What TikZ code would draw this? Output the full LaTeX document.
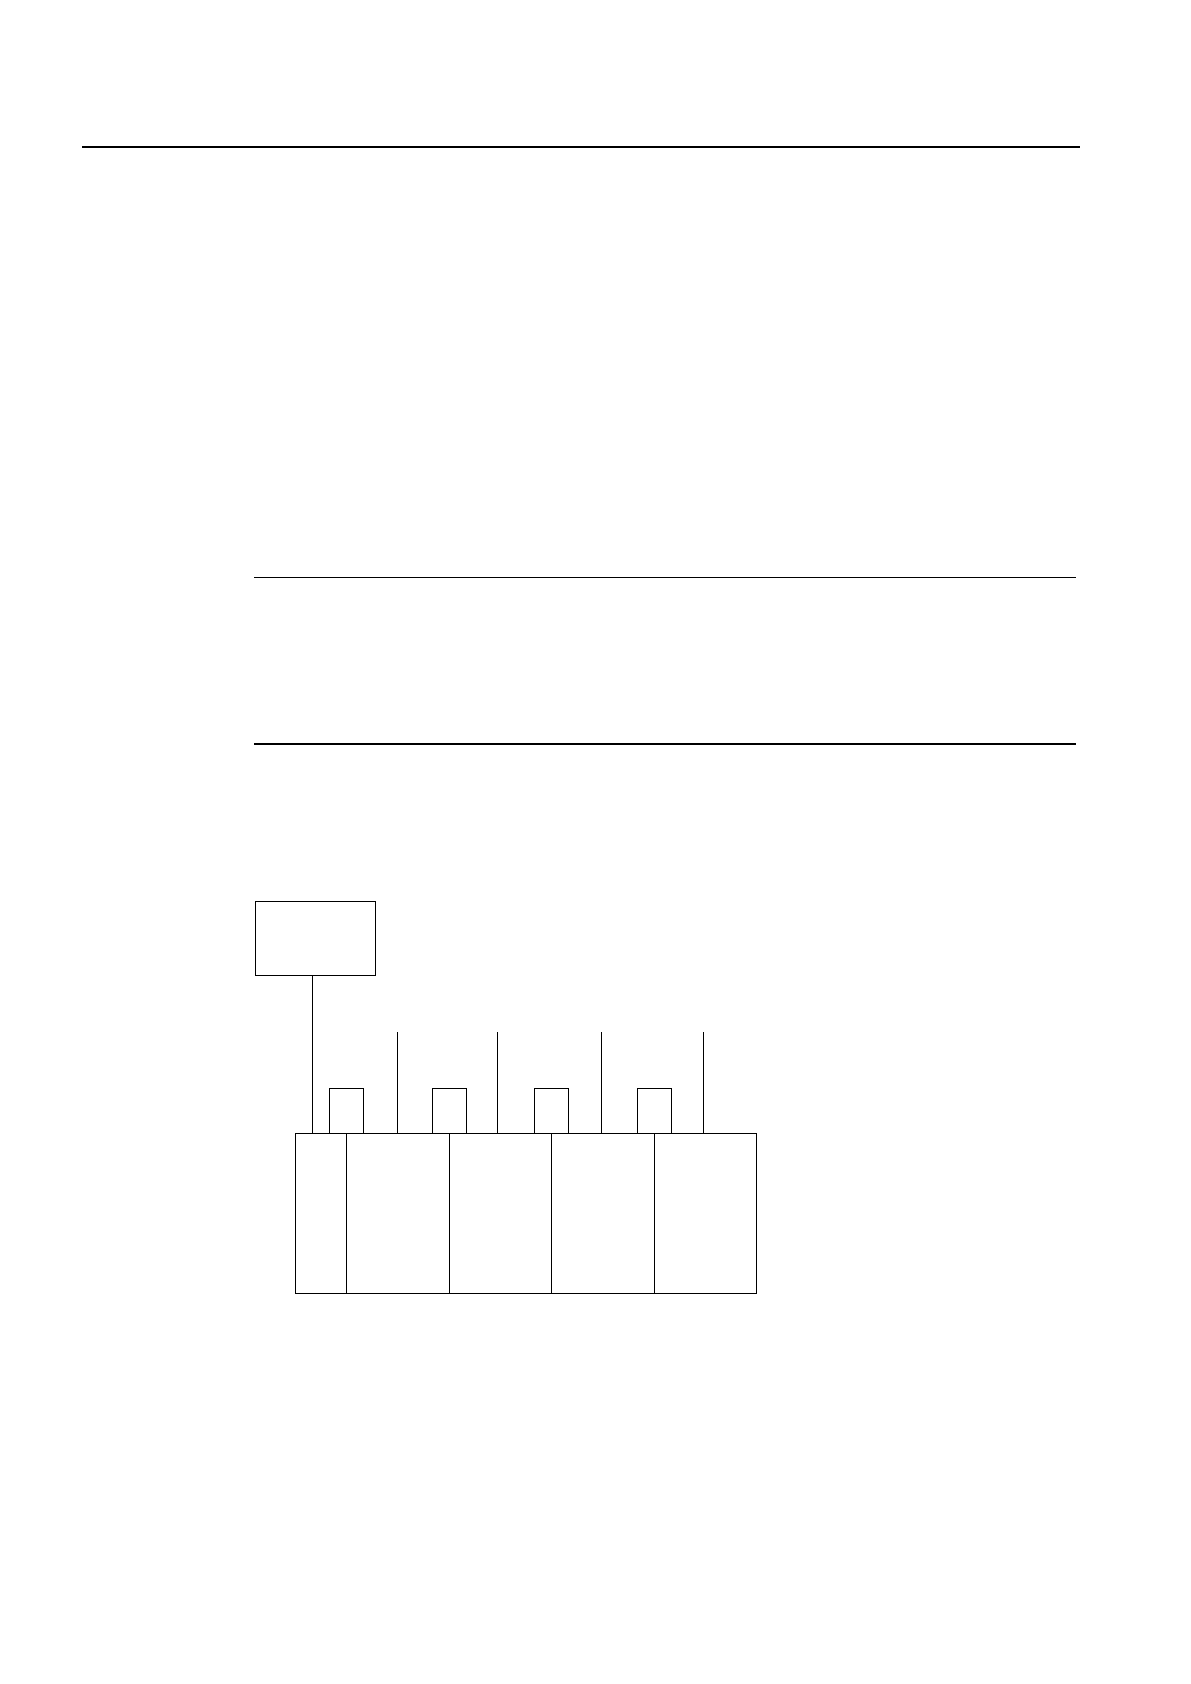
\documentclass[tikz,border=0pt]{standalone}
\usetikzlibrary{positioning}

\tikzset{
    modbox/.style={draw, line width=0.5pt, inner sep=0pt, outer sep=0pt,
        minimum height=79.85pt, anchor=north west},
    capbox/.style={draw, line width=0.5pt, inner sep=0pt, outer sep=0pt,
        minimum width=17pt, minimum height=22.5pt},
    rule/.style={line width=0.75pt},
    wire/.style={line width=0.5pt}
}

\begin{document}
\begin{tikzpicture}[x=0.5pt, y=-0.5pt]
\useasboundingbox (0,0) rectangle (1190,1684);

% Rules
\coordinate (r0a) at (82,147);
\coordinate (r0b) at (1079.7,147);
\coordinate (r1a) at (254,577.3);
\coordinate (r1b) at (1075.7,577.3);
\coordinate (r2a) at (254,744);
\coordinate (r2b) at (1075.7,744);
\draw [rule] (r0a) -- (r0b);
\draw [rule] (r1a) -- (r1b);
\draw [rule] (r2a) -- (r2b);

% Controller
\node (ctrl) [draw,
    line width=0.5pt,
    inner sep=0pt,
    minimum width=60pt,
    minimum height=37.15pt,
    anchor=north west
] at (255.3,901) {};

% Modules
\node (m0) [modbox, minimum width=25.5pt] at (295.3,1133.3) {};
\node (m1) [modbox, minimum width=51.5pt, right=0pt of m0] {};
\node (m2) [modbox, minimum width=51pt, right=0pt of m1] {};
\node (m3) [modbox, minimum width=51.5pt, right=0pt of m2] {};
\node (m4) [modbox, minimum width=51pt, right=0pt of m3] {};

% Caps on the joints
\node (k1) [capbox, above=0pt of m0.north east] {};
\node (k2) [capbox, above=0pt of m1.north east] {};
\node (k3) [capbox, above=0pt of m2.north east] {};
\node (k4) [capbox, above=0pt of m3.north east] {};

% Feed from controller
\coordinate (c0) at (312.3,975.3);
\draw [wire] (c0) -- (c0 |- m0.north);

% Leads
\coordinate (t1) at (397.3,1032);
\coordinate (t2) at (497.3,1032);
\coordinate (t3) at (601.3,1032);
\coordinate (t4) at (703.3,1032);
\draw [wire] (t1) -- (t1 |- m1.north);
\draw [wire] (t2) -- (t2 |- m2.north);
\draw [wire] (t3) -- (t3 |- m3.north);
\draw [wire] (t4) -- (t4 |- m4.north);

\end{tikzpicture}
\end{document}
